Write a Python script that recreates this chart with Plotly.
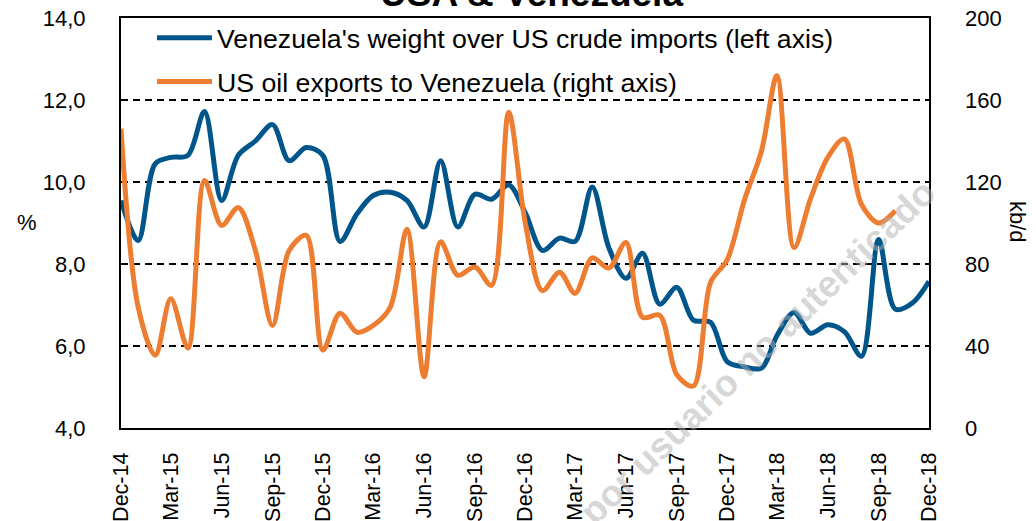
import pandas as pd
import plotly.graph_objects as go

# ---- data ----
months = pd.date_range("2014-12-01", "2018-12-01", freq="MS")

ven_weight_pct = [9.55, 8.57, 10.45, 10.6, 10.65, 11.72, 9.55, 10.65, 11.0, 11.4,
                  10.52, 10.84, 10.65, 8.55, 9.23, 9.67, 9.75, 9.55, 8.9, 10.52,
                  8.9, 9.7, 9.58, 9.93, 9.25, 8.33, 8.63, 8.55, 9.88, 8.4,
                  7.65, 8.26, 7.02, 7.43, 6.63, 6.58, 5.62, 5.49, 5.46, 6.25,
                  6.82, 6.31, 6.52, 6.35, 5.75, 8.6, 6.9, 7.05, 7.58]

us_exports_kbd = [146, 59, 35.5, 63, 39, 120.7, 98.8, 107.6, 86.6, 50,
                  86.6, 94, 38, 56, 46.7, 50, 59, 97, 25, 90.8,
                  74.5, 78.5, 69.6, 154, 100, 67, 76, 65.7, 83, 78,
                  90.5, 54, 55, 26, 20.5, 71, 82, 111, 135, 171.8,
                  88, 112, 132, 141, 109, 100, 106]

series_names = ["Venezuela's weight over US crude imports (left axis)",
                "US oil exports to Venezuela (right axis)"]
left_ticks = [4, 6, 8, 10, 12, 14]
right_ticks = [0, 40, 80, 120, 160, 200]

FONT = "Liberation Sans, Arial, sans-serif"
BLUE = "#00558B"
ORANGE = "#ED7D31"

fig = go.Figure()
fig.add_trace(go.Scatter(
    x=months, y=ven_weight_pct, name=series_names[0], mode="lines",
    line=dict(color=BLUE, width=5, shape="spline", smoothing=0.9),
    legendgroup="a", yaxis="y"))
fig.add_trace(go.Scatter(
    x=months[:len(us_exports_kbd)], y=us_exports_kbd, name=series_names[1], mode="lines",
    line=dict(color=ORANGE, width=5, shape="spline", smoothing=0.9),
    legendgroup="b", yaxis="y2"))

W, H = 1036, 521
PL, PR, PT, PB = 121, 929, 18, 428          # plot box in page pixels
L, T, R, B = PL, PT, W - PR, H - PB
pw, ph = PR - PL, PB - PT


def px(x):
    return (x - PL) / pw


def py(y):
    return 1 - (y - PT) / ph


fig.update_layout(
    width=W, height=H,
    margin=dict(l=L, r=R, t=T, b=B, pad=0, autoexpand=False),
    paper_bgcolor="white", plot_bgcolor="white",
    separators=", ",
    font=dict(family=FONT, size=22, color="black"),
    showlegend=True,
    legend=dict(x=px(152), y=py(14), xanchor="left", yanchor="top",
                bgcolor="rgba(0,0,0,0)", borderwidth=0,
                font=dict(family=FONT, size=26.7, color="black"),
                tracegroupgap=6, traceorder="grouped", itemwidth=55),
    xaxis=dict(type="date", range=[months[0], months[-1]],
               tick0="2014-12-01", dtick="M3", tickformat="%b-%y",
               tickangle=-90, showgrid=False, ticks="", automargin=False,
               showline=True, linecolor="black", linewidth=2, mirror=True,
               ticklabelstandoff=14, ticklabeloverflow="allow", tickfont=dict(size=21.5)),
    yaxis=dict(range=[4, 14], tickvals=left_ticks, tickformat=".1f", automargin=False,
               showgrid=True, gridcolor="black", gridwidth=1.5, griddash="7px,5px",
               showline=True, linecolor="black", linewidth=2, mirror=True,
               ticks="", ticklabelstandoff=29, ticklabeloverflow="allow",
               zeroline=False, tickfont=dict(size=22)),
    yaxis2=dict(range=[0, 200], tickvals=right_ticks, overlaying="y", side="right",
                showgrid=False, showline=False, ticks="", zeroline=False, automargin=False,
                ticklabelstandoff=35, ticklabeloverflow="allow", tickfont=dict(size=22)),
)

# axis unit labels
fig.add_annotation(text="%", xref="paper", yref="paper", x=px(27), y=py(222),
                   xanchor="center", yanchor="middle",
                   showarrow=False, font=dict(size=22, family=FONT))
fig.add_annotation(text="kb/d", xref="paper", yref="paper", x=px(1018), y=py(222),
                   xanchor="center", yanchor="middle",
                   textangle=90, showarrow=False, font=dict(size=22, family=FONT))
# title (mostly cut off at the top of the picture, as in the reference)
fig.add_annotation(text="<b>USA & Venezuela</b>", xref="paper", yref="paper",
                   x=px(531), y=py(16), xanchor="center", yanchor="bottom",
                   showarrow=False, font=dict(size=37, family=FONT))
# watermark
fig.add_annotation(text="<b>por usuario no autenticado</b>", xref="paper", yref="paper",
                   x=px(757), y=py(352), xanchor="center", yanchor="middle",
                   textangle=-44, showarrow=False,
                   font=dict(size=37, family=FONT, color="rgba(175,175,175,0.5)"))

fig.write_html("out.html", config={"displayModeBar": False},
               post_script="document.body.style.margin='0';")
